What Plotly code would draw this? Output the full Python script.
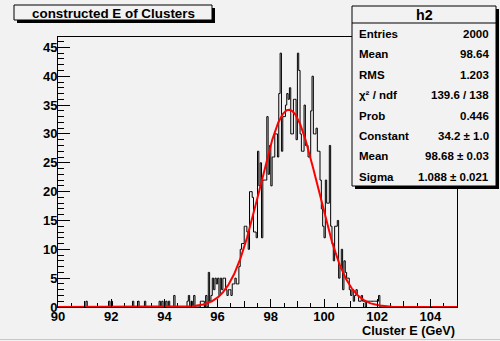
import numpy as np
import plotly.graph_objects as go

# ---------------- data ----------------
x_min, x_max, n_bins = 90.0, 105.0, 300   # 0.05 GeV bins
counts = [
    0, 0, 0, 0, 0, 0, 0, 0, 0, 0, 0, 0, 0, 0, 0, 0, 0, 0, 0, 0,          # 90
    0, 1, 0, 0, 0, 0, 0, 0, 0, 0, 0, 0, 0, 0, 0, 0, 0, 0, 1, 0,          # 91
    1, 0, 0, 0, 0, 0, 0, 0, 0, 0, 0, 0, 0, 0, 0, 0, 1, 0, 0, 0,          # 92
    1, 0, 0, 0, 0, 1, 0, 0, 0, 0, 0, 0, 0, 0, 0, 0, 1, 0, 1, 0,          # 93
    0, 1, 0, 1, 0, 0, 0, 2, 0, 0, 0, 0, 0, 0, 0, 0, 0, 1, 2, 0,          # 94
    1, 0, 2, 0, 0, 0, 0, 1, 1, 1, 0, 2, 0, 6, 1, 2, 5, 3, 5, 4,          # 95
    5, 2, 5, 3, 5, 5, 3, 2, 3, 3, 2, 4, 4, 5, 4, 4, 7, 10, 11, 11,       # 96
    14, 14, 13, 10, 20, 20, 19, 13, 13, 12, 27, 21, 25, 12, 22, 22, 22, 33, 23, 28,  # 97
    21, 26, 26, 30, 30, 26, 37, 44, 27, 33, 33, 35, 37, 36, 38, 30, 30, 36, 36, 29,  # 98
    44, 41, 30, 27, 27, 35, 28, 28, 26, 26, 34, 40, 30, 30, 31, 27, 27, 22, 17, 14,  # 99
    12, 22, 18, 18, 28, 14, 11, 8, 14, 14, 15, 5, 7, 10, 3, 8, 6, 5, 5, 3,           # 100
    2, 3, 1, 2, 3, 2, 1, 1, 2, 1, 1, 0, 1, 1, 1, 1, 1, 1, 1, 1,          # 101
    1, 2, 0, 0, 0, 0, 0, 0, 0, 0, 0, 0, 0, 0, 0, 0, 0, 0, 0, 0,          # 102
    0, 0, 0, 0, 0, 0, 0, 0, 0, 0, 0, 0, 0, 0, 0, 0, 0, 0, 0, 0,          # 103
    0, 0, 0, 0, 0, 0, 0, 0, 0, 0, 0, 0, 0, 0, 0, 0, 0, 0, 0, 0,          # 104
]
fit_constant, fit_mean, fit_sigma = 34.2, 98.68, 1.088
y_max = 46.8

hist_name = "h2"
title_text = "constructed E of Clusters"
x_title = "Cluster E (GeV)"
stats_labels = ["Entries", "Mean", "RMS", "χ² / ndf", "Prob", "Constant", "Mean", "Sigma"]
stats_values = ["2000", "98.64", "1.203", "139.6 / 138", "0.446",
                "34.2 ± 1.0", "98.68 ± 0.03", "1.088 ± 0.021"]

# ---------------- geometry ----------------
W, H = 500, 341
L, R, T, B = 58, 457, 37, 307
BG = "#f2f2f2"
FONT = "Liberation Sans, Arial, Helvetica, sans-serif"


def px(x):
    return (x - L) / (R - L)


def py(y):
    return (B - y) / (B - T)


edges = np.linspace(x_min, x_max, n_bins + 1)
step_x = [x_min] + list(edges) + [x_max]
step_y = [0] + list(counts) + [counts[-1]] + [0]

fx = np.linspace(x_min, x_max, 1200)
fy = fit_constant * np.exp(-0.5 * ((fx - fit_mean) / fit_sigma) ** 2)

fig = go.Figure()
fig.add_trace(go.Scatter(x=step_x, y=step_y, mode="lines", line=dict(color="black", width=1, shape="hv"),
                         hoverinfo="skip", showlegend=False))
fig.add_trace(go.Scatter(x=fx, y=fy, mode="lines", line=dict(color="#ff0000", width=2),
                         hoverinfo="skip", showlegend=False))
# helper trace for the secondary (integer) x ticks
fig.add_trace(go.Scatter(x=[None], y=[None], xaxis="x2", yaxis="y", showlegend=False, hoverinfo="skip"))

tickfont = dict(family=FONT, size=13, color="black", weight="bold")

fig.update_layout(
    width=W, height=H,
    margin=dict(l=L, r=W - R, t=T, b=H - B),
    paper_bgcolor=BG, plot_bgcolor=BG,
    showlegend=False,
    xaxis=dict(range=[x_min, x_max], dtick=2, tick0=90, ticks="inside", ticklen=8, tickwidth=1,
               tickcolor="black", showline=True, linecolor="black", linewidth=1, mirror=True,
               showgrid=False, zeroline=False, tickfont=tickfont, layer="below traces",
               ticklabelstandoff=-3,
               minor=dict(dtick=0.5, ticks="inside", ticklen=4, tickcolor="black", showgrid=False)),
    xaxis2=dict(range=[x_min, x_max], overlaying="x", anchor="y", side="bottom", dtick=1, tick0=90,
                ticks="inside", ticklen=6, tickcolor="black", showticklabels=False, showline=False,
                showgrid=False, zeroline=False),
    yaxis=dict(range=[0, y_max], dtick=5, tick0=0, ticks="inside", ticklen=12, tickwidth=1,
               tickcolor="black", showline=True, linecolor="black", linewidth=1, mirror=True,
               showgrid=False, zeroline=False, tickfont=tickfont, layer="below traces",
               ticklabelstandoff=-3,
               minor=dict(dtick=1, ticks="inside", ticklen=6, tickcolor="black", showgrid=False)),
)

shapes = []
# title box with shadow
shapes.append(dict(type="rect", xref="paper", yref="paper", x0=px(17), x1=px(215), y0=py(23), y1=py(8),
                   fillcolor="black", line=dict(width=0), layer="above"))
shapes.append(dict(type="rect", xref="paper", yref="paper", x0=px(14), x1=px(212), y0=py(20), y1=py(5),
                   fillcolor=BG, line=dict(color="black", width=1), layer="above"))
# stats box with shadow
shapes.append(dict(type="rect", xref="paper", yref="paper", x0=px(355), x1=px(499), y0=py(189), y1=py(9),
                   fillcolor="black", line=dict(width=0), layer="above"))
shapes.append(dict(type="rect", xref="paper", yref="paper", x0=px(352), x1=px(496), y0=py(186), y1=py(6),
                   fillcolor=BG, line=dict(color="black", width=1), layer="above"))
shapes.append(dict(type="line", xref="paper", yref="paper", x0=px(352), x1=px(496), y0=py(23), y1=py(23),
                   line=dict(color="black", width=1), layer="above"))
# canvas bottom border
shapes.append(dict(type="line", xref="paper", yref="paper", x0=px(0), x1=px(500), y0=py(339.5), y1=py(339.5),
                   line=dict(color="#c8c8c8", width=1), layer="above"))
fig.update_layout(shapes=shapes)

ann = []
ann.append(dict(text=title_text, xref="paper", yref="paper", x=px(113), y=py(13), xanchor="center",
                yanchor="middle", showarrow=False,
                font=dict(family=FONT, size=13.4, color="black", weight="bold")))
ann.append(dict(text=hist_name, xref="paper", yref="paper", x=px(424), y=py(15), xanchor="center",
                yanchor="middle", showarrow=False,
                font=dict(family=FONT, size=14.3, color="black", weight="bold")))
for i, (lab, val) in enumerate(zip(stats_labels, stats_values)):
    yy = 34 + i * 20.4
    ann.append(dict(text=lab, xref="paper", yref="paper", x=px(357), y=py(yy), xanchor="left",
                    yanchor="middle", showarrow=False,
                    font=dict(family=FONT, size=11.5, color="black", weight="bold")))
    ann.append(dict(text=val, xref="paper", yref="paper", x=px(491), y=py(yy), xanchor="right",
                    yanchor="middle", showarrow=False,
                    font=dict(family=FONT, size=11.5, color="black", weight="bold")))
ann.append(dict(text=x_title, xref="paper", yref="paper", x=px(457), y=py(331), xanchor="right",
                yanchor="middle", showarrow=False,
                font=dict(family=FONT, size=12.7, color="black", weight="bold")))
fig.update_layout(annotations=ann)

fig.write_html("out.html")
